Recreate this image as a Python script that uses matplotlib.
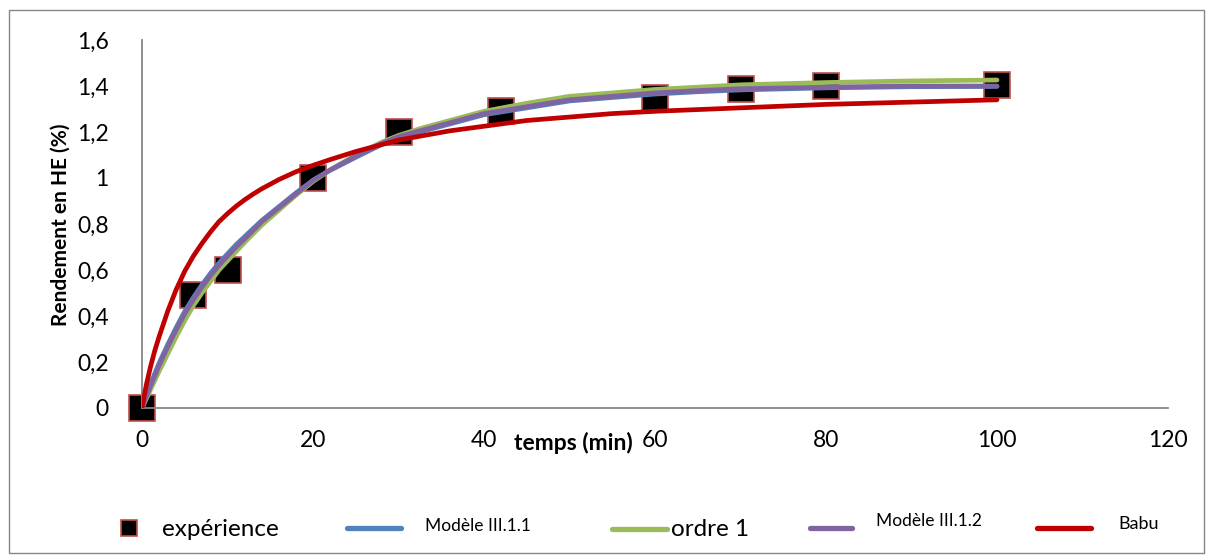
import matplotlib
matplotlib.use("Agg")
import matplotlib.pyplot as plt
from matplotlib.lines import Line2D
from matplotlib.patches import Rectangle

plt.rcParams['font.family'] = ['Lato', 'DejaVu Sans']

# ---- data ----
t_exp = [0, 6, 10, 20, 30, 42, 60, 70, 80, 100]
y_exp = [0, 0.49, 0.60, 1.00, 1.20, 1.29, 1.35, 1.385, 1.40, 1.405]

t_mod = [0, 1, 2, 3, 4, 5, 6, 7, 8, 9, 10, 11, 12, 14, 16, 18, 20, 22, 25, 28, 30,
         33, 36, 40, 45, 50, 55, 60, 65, 70, 80, 90, 100]
y_m111 = [0, 0.105, 0.195, 0.275, 0.35, 0.42, 0.48, 0.535, 0.585, 0.63, 0.67, 0.71,
          0.745, 0.815, 0.875, 0.935, 0.99, 1.033, 1.09, 1.145, 1.175, 1.205, 1.235,
          1.275, 1.305, 1.335, 1.35, 1.365, 1.375, 1.383, 1.392, 1.397, 1.398]
y_ordre1 = [0, 0.08, 0.16, 0.235, 0.31, 0.38, 0.445, 0.50, 0.55, 0.60, 0.64, 0.68,
            0.72, 0.795, 0.86, 0.925, 0.985, 1.035, 1.10, 1.155, 1.185, 1.22, 1.25,
            1.29, 1.325, 1.355, 1.37, 1.385, 1.395, 1.405, 1.415, 1.422, 1.426]
y_m112 = [0, 0.095, 0.185, 0.265, 0.34, 0.41, 0.47, 0.525, 0.575, 0.62, 0.66, 0.70,
          0.735, 0.81, 0.87, 0.93, 0.99, 1.035, 1.095, 1.15, 1.18, 1.21, 1.24,
          1.28, 1.31, 1.34, 1.355, 1.37, 1.38, 1.388, 1.395, 1.40, 1.40]

t_babu = [0, 0.5, 1, 1.5, 2, 3, 4, 5, 6, 7, 8, 9, 10, 11, 12, 13, 14, 16, 18, 20,
          22, 25, 28, 30, 33, 36, 40, 45, 50, 55, 60, 70, 80, 90, 100]
y_babu = [0, 0.10, 0.18, 0.25, 0.31, 0.42, 0.515, 0.595, 0.66, 0.715, 0.765, 0.81,
          0.845, 0.877, 0.905, 0.93, 0.953, 0.993, 1.027, 1.055, 1.08, 1.115, 1.145,
          1.165, 1.185, 1.205, 1.225, 1.25, 1.265, 1.28, 1.29, 1.305, 1.32, 1.33,
          1.34]

x_ticks = [0, 20, 40, 60, 80, 100, 120]
y_ticks = [0, 0.2, 0.4, 0.6, 0.8, 1.0, 1.2, 1.4, 1.6]
y_ticklabels = ['0', '0,2', '0,4', '0,6', '0,8', '1', '1,2', '1,4', '1,6']
legend_labels = ['expérience', 'Modèle III.1.1', 'ordre 1', 'Modèle III.1.2', 'Babu']

C_BLUE = '#4F81BD'
C_GREEN = '#9BBB59'
C_PURPLE = '#8064A2'
C_RED = '#C00000'
C_MEDGE = '#C0504D'
C_AXIS = '#868686'

W, H = 1210, 557
fig = plt.figure(figsize=(W / 100, H / 100), dpi=100)


def px(x, y):
    return x / W, 1 - y / H


ax = fig.add_axes([142 / W, 1 - 408 / H, (1168 - 142) / W, (408 - 40) / H])

ax.plot(t_exp, y_exp, linestyle='none', marker='s', markersize=19,
        markerfacecolor='black', markeredgecolor=C_MEDGE, markeredgewidth=1.2,
        clip_on=False, zorder=2)
lw = 3.4
ax.plot(t_mod, y_m111, color=C_BLUE, lw=lw, solid_capstyle='round',
        solid_joinstyle='round', zorder=3)
ax.plot(t_mod, y_ordre1, color=C_GREEN, lw=lw, solid_capstyle='round',
        solid_joinstyle='round', zorder=4)
ax.plot(t_mod, y_m112, color=C_PURPLE, lw=lw, solid_capstyle='round',
        solid_joinstyle='round', zorder=5)
ax.plot(t_babu, y_babu, color=C_RED, lw=lw, solid_capstyle='round',
        solid_joinstyle='round', zorder=6)

ax.set_xlim(0, 120)
ax.set_ylim(0, 1.6)
ax.set_xticks(x_ticks)
ax.set_xticklabels([str(v) for v in x_ticks])
ax.set_yticks(y_ticks)
ax.set_yticklabels(y_ticklabels)
ax.tick_params(axis='both', length=0, labelsize=16.5, colors='black')
ax.tick_params(axis='x', pad=16)
ax.tick_params(axis='y', pad=24)
for s in ['top', 'right']:
    ax.spines[s].set_visible(False)
for s in ['left', 'bottom']:
    ax.spines[s].set_color(C_AXIS)
    ax.spines[s].set_linewidth(1.3)

fig.text(*px(61, 225), 'Rendement en HE (%)', fontsize=15, fontweight='bold',
         rotation=90, ha='center', va='center')
fig.text(*px(573, 443), 'temps (min)', fontsize=16.5, fontweight='bold',
         ha='center', va='center')

# outer frame
fig.patches.append(Rectangle(px(9, 553), (1204 - 9) / W, (553 - 10) / H,
                             transform=fig.transFigure, fill=False,
                             edgecolor=C_AXIS, lw=1.0))

# legend (manual, Excel-style)
fig.add_artist(Line2D([px(129, 0)[0]], [px(0, 528)[1]], marker='s', markersize=11,
                      markerfacecolor='black', markeredgecolor=C_MEDGE,
                      markeredgewidth=1.2, linestyle='none', transform=fig.transFigure))
fig.text(*px(162, 529), legend_labels[0], fontsize=17.5, ha='left', va='center')

leg_lines = [(347, 401, 528, C_BLUE, 425, 526, 12.5, legend_labels[1]),
             (612, 667, 529, C_GREEN, 671, 530, 17.5, legend_labels[2]),
             (810, 852, 528, C_PURPLE, 876, 521, 12.5, legend_labels[3]),
             (1037, 1091, 528, C_RED, 1118, 524, 13, legend_labels[4])]
for x0, x1, yy, c, tx, ty, fs, lab in leg_lines:
    fig.add_artist(Line2D([px(x0, 0)[0], px(x1, 0)[0]], [px(0, yy)[1]] * 2,
                          color=c, lw=3.8, solid_capstyle='round',
                          transform=fig.transFigure))
    fig.text(*px(tx, ty), lab, fontsize=fs, ha='left', va='center')

fig.savefig('out.png', dpi=100)
